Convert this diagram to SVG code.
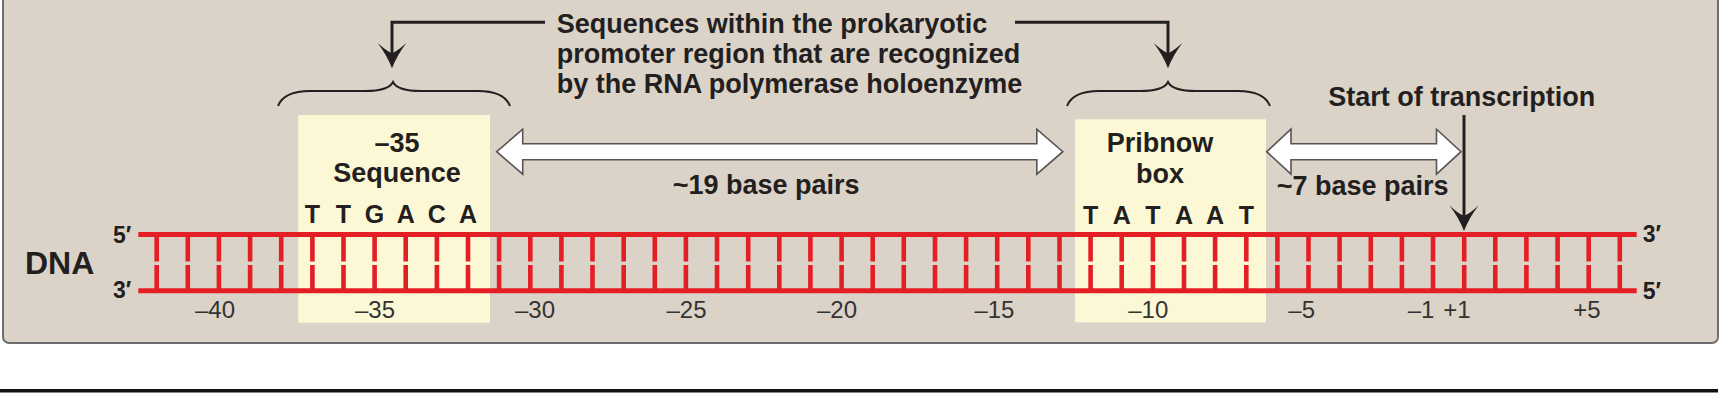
<svg xmlns="http://www.w3.org/2000/svg" width="1731" height="402" viewBox="0 0 1731 402">
<style>
  .b{font-family:"Liberation Sans",Arial,sans-serif;font-weight:bold;fill:#231f20}
  .n{font-family:"Liberation Sans",Arial,sans-serif;font-size:24px;fill:#333;text-anchor:middle}
  .t27{font-size:27px}
  .mid{text-anchor:middle}
  .box{fill:#fcf8d5}
  .conn{fill:none;stroke:#231f20;stroke-width:3}
  .brace{fill:none;stroke:#231f20;stroke-width:2}
  .hollow{fill:#ffffff;stroke:#555;stroke-width:1.6;stroke-linejoin:miter}
  .strand{stroke:#e31e24;stroke-width:5;fill:none}
  .rung{stroke:#e31e24;stroke-width:4.6;fill:none}
</style>
<defs>
  <path id="ah" d="M0,0 Q-5,-13 -14.5,-25.5 Q-6,-17.5 0,-15 Q6,-17.5 14.5,-25.5 Q5,-13 0,0 Z" fill="#231f20"/>
</defs>
<rect width="1731" height="402" fill="#ffffff"/>
<g id="panel">
  <rect x="3" y="-20" width="1715" height="363" rx="6" fill="#dbd3c8" stroke="#6d6d6d" stroke-width="2"/>
</g>
<line x1="0" y1="390.7" x2="1718" y2="390.7" stroke="#111" stroke-width="3.6"/>
<g id="box-35">
  <rect class="box" x="298.3" y="115" width="191.7" height="207.7"/>
  <text class="b t27 mid" x="397" y="151.7">–35</text>
  <text class="b t27 mid" x="397" y="182">Sequence</text>
  <text class="b mid" font-size="25" y="223.3"><tspan x="312.4">T</tspan><tspan x="343.5">T</tspan><tspan x="374.6">G</tspan><tspan x="405.7">A</tspan><tspan x="436.9">C</tspan><tspan x="468">A</tspan></text>
</g>
<g id="box-10">
  <rect class="box" x="1075" y="119.3" width="191" height="203"/>
  <text class="b t27 mid" x="1160" y="151.7">Pribnow</text>
  <text class="b t27 mid" x="1160" y="182.7">box</text>
  <text class="b mid" font-size="25" y="224"><tspan x="1090.6">T</tspan><tspan x="1121.7">A</tspan><tspan x="1152.9">T</tspan><tspan x="1184">A</tspan><tspan x="1215.1">A</tspan><tspan x="1246.3">T</tspan></text>
</g>
<g id="dna">
  <path class="rung" d="M156.7,234.5V261.5M156.7,265V290.7M187.8,234.5V261.5M187.8,265V290.7M218.9,234.5V261.5M218.9,265V290.7M250.1,234.5V261.5M250.1,265V290.7M281.2,234.5V261.5M281.2,265V290.7M312.4,234.5V261.5M312.4,265V290.7M343.5,234.5V261.5M343.5,265V290.7M374.6,234.5V261.5M374.6,265V290.7M405.7,234.5V261.5M405.7,265V290.7M436.9,234.5V261.5M436.9,265V290.7M468,234.5V261.5M468,265V290.7M499.1,234.5V261.5M499.1,265V290.7M530.3,234.5V261.5M530.3,265V290.7M561.4,234.5V261.5M561.4,265V290.7M592.5,234.5V261.5M592.5,265V290.7M623.7,234.5V261.5M623.7,265V290.7M654.8,234.5V261.5M654.8,265V290.7M685.9,234.5V261.5M685.9,265V290.7M717,234.5V261.5M717,265V290.7M748.2,234.5V261.5M748.2,265V290.7M779.3,234.5V261.5M779.3,265V290.7M810.4,234.5V261.5M810.4,265V290.7M841.6,234.5V261.5M841.6,265V290.7M872.7,234.5V261.5M872.7,265V290.7M903.8,234.5V261.5M903.8,265V290.7M935,234.5V261.5M935,265V290.7M966.1,234.5V261.5M966.1,265V290.7M997.2,234.5V261.5M997.2,265V290.7M1028.3,234.5V261.5M1028.3,265V290.7M1059.5,234.5V261.5M1059.5,265V290.7M1090.6,234.5V261.5M1090.6,265V290.7M1121.7,234.5V261.5M1121.7,265V290.7M1152.9,234.5V261.5M1152.9,265V290.7M1184,234.5V261.5M1184,265V290.7M1215.1,234.5V261.5M1215.1,265V290.7M1246.3,234.5V261.5M1246.3,265V290.7M1277.4,234.5V261.5M1277.4,265V290.7M1308.5,234.5V261.5M1308.5,265V290.7M1339.6,234.5V261.5M1339.6,265V290.7M1370.8,234.5V261.5M1370.8,265V290.7M1401.9,234.5V261.5M1401.9,265V290.7M1433,234.5V261.5M1433,265V290.7M1464.2,234.5V261.5M1464.2,265V290.7M1495.3,234.5V261.5M1495.3,265V290.7M1526.4,234.5V261.5M1526.4,265V290.7M1557.6,234.5V261.5M1557.6,265V290.7M1588.7,234.5V261.5M1588.7,265V290.7M1619.8,234.5V261.5M1619.8,265V290.7"/>
  <line class="strand" x1="138.3" y1="234.5" x2="1636.7" y2="234.5"/>
  <line class="strand" x1="138.3" y1="290.7" x2="1636.7" y2="290.7"/>
  <text class="b" font-size="32" x="25" y="274.3">DNA</text>
  <text class="b" font-size="23" x="113" y="242.7">5′</text>
  <text class="b" font-size="23" x="113" y="297.5">3′</text>
  <text class="b" font-size="23" x="1642.7" y="242">3′</text>
  <text class="b" font-size="23" x="1642.7" y="299">5′</text>
</g>
<g id="positions">
  <text class="n" x="215" y="318.3">–40</text>
  <text class="n" x="375" y="318.3">–35</text>
  <text class="n" x="535" y="318.3">–30</text>
  <text class="n" x="686.5" y="318.3">–25</text>
  <text class="n" x="837" y="318.3">–20</text>
  <text class="n" x="994.4" y="318.3">–15</text>
  <text class="n" x="1148.3" y="318.3">–10</text>
  <text class="n" x="1301.7" y="318.3">–5</text>
  <text class="n" x="1421" y="318.3">–1</text>
  <text class="n" x="1457" y="318.3">+1</text>
  <text class="n" x="1587" y="318.3">+5</text>
</g>
<g id="callout">
  <text class="b t27" x="556.7" y="33.3">Sequences within the prokaryotic</text>
  <text class="b t27" x="556.7" y="63.3">promoter region that are recognized</text>
  <text class="b t27" x="556.7" y="93.3">by the RNA polymerase holoenzyme</text>
</g>
<g id="start-label">
  <text class="b t27" x="1328.3" y="106">Start of transcription</text>
</g>
<g id="spacer-19">
  <path class="hollow" d="M496.7,151.7 L522.7,129.2 L522.7,143.7 L1036.8,143.7 L1036.8,129.2 L1062.8,151.7 L1036.8,174.2 L1036.8,159.7 L522.7,159.7 L522.7,174.2 Z"/>
  <text class="b t27" x="672.7" y="194">~19 base pairs</text>
</g>
<g id="spacer-7">
  <path class="hollow" d="M1266.7,151.7 L1291,129.2 L1291,143.7 L1436.5,143.7 L1436.5,129.2 L1461,151.7 L1436.5,174.2 L1436.5,159.7 L1291,159.7 L1291,174.2 Z"/>
  <text class="b t27" x="1276.7" y="195">~7 base pairs</text>
</g>
<g id="braces">
  <path class="brace" d="M278,106 C282,96 292,91 310,91 L365,91 C382,91 390,88 393,82 C396,88 404,91 421,91 L478,91 C496,91 506,96 510,106"/>
  <path class="brace" d="M1067,106 C1071,96 1081,91 1099,91 L1140,91 C1157,91 1165,88 1168,82 C1171,88 1179,91 1196,91 L1238,91 C1256,91 1266,96 1270,106"/>
</g>
<g id="connectors">
  <path class="conn" d="M545,22.3 H392 V58"/>
  <use href="#ah" x="392" y="68.3"/>
  <path class="conn" d="M1015,22.3 H1168 V58"/>
  <use href="#ah" x="1168" y="68.3"/>
  <path class="conn" d="M1464,115 V220" stroke-width="3.5"/>
  <use href="#ah" x="1464" y="231"/>
</g>
</svg>
